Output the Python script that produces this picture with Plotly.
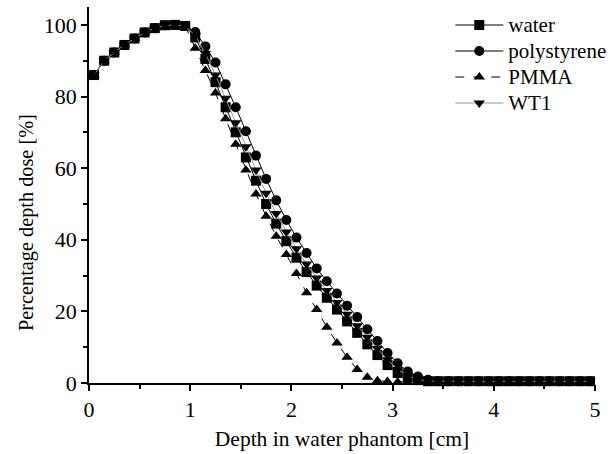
import plotly.graph_objects as go

depth = [round(0.05 + 0.1 * k, 2) for k in range(50)]

common_build = [86, 90, 92.3, 94.4, 96.2, 97.9, 99.1, 99.9, 100, 99.7]

water = common_build + [96.5, 90.5, 84, 77, 70, 63, 56.5, 50, 44.5, 39.6,
                        35, 31, 27.2, 23.8, 20.5, 17.2, 14, 10.8, 7.8, 5,
                        2.8, 1.6, 0.8, 0.5, 0.5, 0.5, 0.5, 0.5, 0.5, 0.5,
                        0.5, 0.5, 0.5, 0.5, 0.5, 0.5, 0.5, 0.5, 0.5, 0.5]
polystyrene = common_build + [98, 94, 89.5, 83.4, 77, 70.3, 63.5, 57, 51, 45.5,
                              40.6, 36.3, 32, 28.4, 25, 21.6, 18.4, 15, 11.7, 8.4,
                              5.5, 3.2, 1.8, 0.9, 0.5, 0.5, 0.5, 0.5, 0.5, 0.5,
                              0.5, 0.5, 0.5, 0.5, 0.5, 0.5, 0.5, 0.5, 0.5, 0.5]
pmma = common_build + [93.5, 87.3, 81, 73.8, 66.7, 59.5, 52.8, 46.6, 41, 35.9,
                       30.6, 25.2, 20.5, 15.6, 11.2, 7.2, 3.8, 1.6, 0.6, 0.4,
                       0.3, 0.3, 0.3, 0.3, 0.3, 0.3, 0.3, 0.3, 0.3, 0.3,
                       0.3, 0.3, 0.3, 0.3, 0.3, 0.3, 0.3, 0.3, 0.3, 0.3]
wt1 = common_build + [97, 92, 86, 79.5, 72.7, 66, 59.5, 53, 47.3, 42.2,
                      37.5, 33.2, 29.3, 25.8, 22.5, 19.2, 16, 12.8, 9.6, 6.5,
                      3.8, 2.0, 1.0, 0.6, 0.5, 0.5, 0.5, 0.5, 0.5, 0.5,
                      0.5, 0.5, 0.5, 0.5, 0.5, 0.5, 0.5, 0.5, 0.5, 0.5]

series_names = ["water", "polystyrene", "PMMA", "WT1"]
x_ticks = [0, 1, 2, 3, 4, 5]
y_ticks = [0, 20, 40, 60, 80, 100]

FONT = "Liberation Serif"
FS = 21

styles = [
    dict(symbol="square", line=dict(color="black", width=1, dash="solid")),
    dict(symbol="circle", line=dict(color="black", width=1, dash="solid")),
    dict(symbol="triangle-up", line=dict(color="black", width=1, dash="dash")),
    dict(symbol="triangle-down", line=dict(color="#999999", width=1, dash="solid")),
]

fig = go.Figure()
for name, ys, st in zip(series_names, [water, polystyrene, pmma, wt1], styles):
    fig.add_trace(go.Scatter(
        x=depth, y=ys, name=f'<span style="font-size:{FS}px">{name}</span>',
        mode="lines+markers",
        line=st["line"],
        marker=dict(symbol=st["symbol"], size=10, color="black", line=dict(width=0)),
        cliponaxis=False,
    ))

fig.add_annotation(
    text="Percentage depth dose [%]", textangle=-90,
    xref="paper", yref="paper", x=(26 - 89) / 506, y=(383 - 223) / 376,
    xanchor="center", yanchor="middle", showarrow=False,
    font=dict(family=FONT, size=20.3, color="black"),
)

fig.update_layout(
    width=615, height=454,
    margin=dict(l=89, r=20, t=7, b=71, autoexpand=False),
    paper_bgcolor="white", plot_bgcolor="white",
    font=dict(family=FONT, size=FS, color="black"),
    showlegend=True,
    legend=dict(
        x=0.714, y=1.0, xanchor="left", yanchor="top",
        bgcolor="rgba(0,0,0,0)", borderwidth=0,
        font=dict(family=FONT, size=17.7, color="black"),
        itemwidth=48, tracegroupgap=0,
    ),
    xaxis=dict(
        range=[0, 5], tickvals=x_ticks, ticktext=[str(v) for v in x_ticks],
        showline=True, linecolor="black", linewidth=1.5,
        ticks="outside", ticklen=6, tickwidth=1.5, tickcolor="black",
        minor=dict(dtick=0.5, ticks="outside", ticklen=4, tickwidth=1.5, tickcolor="black"),
        showgrid=False, zeroline=False, automargin=False,
        title=dict(text="Depth in water phantom [cm]", font=dict(family=FONT, size=21.5), standoff=10),
        tickfont=dict(family=FONT, size=22),
    ),
    yaxis=dict(
        range=[0, 105], tickvals=y_ticks, ticktext=[str(v) for v in y_ticks],
        showline=True, linecolor="black", linewidth=1.5,
        ticks="outside", ticklen=6, tickwidth=1.5, tickcolor="black",
        minor=dict(dtick=10, ticks="outside", ticklen=4, tickwidth=1.5, tickcolor="black"),
        showgrid=False, zeroline=False, automargin=False,
        tickfont=dict(family=FONT, size=22),
    ),
)

fig.write_html("out.html", config={"displayModeBar": False},
               post_script="document.body.style.margin='0';")
